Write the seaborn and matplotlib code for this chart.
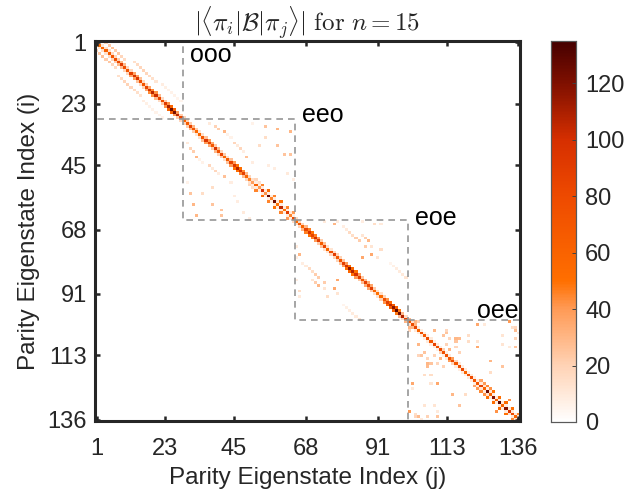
"""Mapa de calor de la matriz B en la base de paridad, n = 15."""
import matplotlib
matplotlib.use("Agg")
import matplotlib.pyplot as plt
import numpy as np
import seaborn as sns
from matplotlib.colors import LinearSegmentedColormap
from matplotlib.patches import Rectangle

tick_labels = [1, 23, 45, 68, 91, 113, 136]
cbar_ticks = [0, 20, 40, 60, 80, 100, 120]
block_edges = [0, 28, 64, 100, 136]
block_names = ["ooo", "eeo", "eoe", "oee"]

diag_ooo = [40, 50, 58, 62, 66, 72, 76, 82, 92, 78, 72, 88, 98, 94, 78, 72, 84, 98, 106, 102,
            84, 78, 92, 110, 124, 122, 106, 84]
diag_eeo = [60, 66, 85, 72, 55, 58, 70, 95, 85, 70, 98, 75, 85, 60, 68, 85, 95, 108, 100, 88,
            60, 45, 38, 62, 40, 100, 42, 128, 45, 125, 50, 105, 50, 90, 45, 80]
diag_eoe = [55, 70, 60, 85, 98, 85, 100, 90, 65, 85, 60, 78, 90, 70, 72, 88, 100, 118, 108, 100,
            90, 70, 88, 80, 90, 60, 50, 55, 75, 90, 105, 118, 130, 122, 108, 85]
diag_oee = [70, 78, 85, 60, 78, 70, 80, 72, 85, 78, 80, 76, 75, 72, 80, 70, 76, 82, 60, 78,
            80, 70, 70, 85, 60, 125, 60, 118, 62, 130, 60, 118, 95, 80, 60, 95]

# primera superdiagonal (filas 0 a 134)
near_ooo = [10, 12, 14, 14, 16, 18, 22, 30, 28, 18, 18, 36, 38, 26, 16, 20, 34, 44, 42, 28,
            16, 22, 42, 60, 62, 40, 22, 18]
near_eeo = [20, 22, 30, 22, 12, 14, 26, 40, 34, 22, 30, 18, 22, 14, 26, 40, 50, 52, 44, 28,
            18, 14, 8, 10, 8, 10, 8, 10, 8, 10, 8, 10, 8, 10, 8, 16]
near_eoe = [18, 18, 30, 46, 50, 46, 40, 22, 26, 14, 12, 18, 20, 20, 24, 40, 52, 58, 50, 40,
            24, 28, 34, 36, 22, 14, 14, 20, 42, 58, 66, 62, 48, 28, 16, 30]
near_oee = [14, 12, 10, 8, 10, 8, 10, 8, 10, 8, 10, 8, 10, 12, 18, 10, 8, 10, 8, 10, 8, 8, 10,
            12, 8, 12, 8, 10, 8, 10, 8, 10, 12, 10, 12]

# bandas del bloque ooo (fila inicial, desfase, valores)
band_rows = [0, 7, 15]
band_offsets = [3, 5, 6]
band_values = [
    [20, 24, 26, 22, 24, 18, 16],
    [14, 16, 18, 20, 18, 16, 14, 12],
    [8, 7, 6, 6, 6, 5, 5],
]

# puntos sueltos del bloque eeo
eeo_rows = [29, 30, 31, 32, 33, 34, 36, 37, 38, 39, 41, 29, 30, 31, 32, 34, 37, 37, 40, 40, 44,
            45, 47, 49, 43, 51, 53, 55, 57, 59, 61, 49, 50]
eeo_cols = [36, 38, 39, 41, 42, 43, 44, 45, 46, 47, 48, 50, 54, 58, 62, 54, 52, 58, 60, 62, 55,
            57, 61, 63, 50, 53, 55, 57, 59, 61, 63, 51, 52]
eeo_vals = [10, 20, 22, 30, 6, 6, 18, 10, 18, 8, 26, 6, 25, 30, 30, 15, 15, 25, 25, 25, 8,
            8, 10, 8, 8, 45, 55, 45, 50, 45, 40, 18, 14]

# puntos sueltos del bloque eoe
eoe_rows = [65, 64, 66, 67, 68, 70, 69, 70, 71, 64, 65, 65, 73, 73, 74, 77, 76, 77, 79, 80, 81,
            82, 83, 84, 71, 69, 64]
eoe_cols = [76, 73, 79, 80, 81, 83, 85, 86, 87, 85, 89, 91, 86, 88, 91, 85, 88, 90, 94, 95, 96,
            97, 98, 99, 84, 82, 77]
eoe_vals = [30, 10, 8, 10, 16, 22, 12, 22, 30, 8, 15, 10, 22, 12, 15, 35, 35, 12, 5, 7, 8,
            9, 10, 12, 22, 15, 8]

# puntos sueltos del bloque oee
oee_rows = [100, 100, 101, 103, 104, 105, 106, 106, 106, 107, 101, 101, 100, 102, 109, 107,
            109, 109, 104, 108, 114, 116, 118, 108, 108, 110, 110, 111, 112, 113, 114, 115,
            115, 116, 115, 116, 119, 122, 124, 122, 122, 126, 126, 130, 130, 132, 133, 134,
            134, 132, 134, 123, 125, 127, 129, 131, 133, 121, 122, 124, 128]
oee_cols = [102, 103, 102, 108, 112, 111, 115, 116, 113, 119, 122, 124, 132, 134, 122, 122,
            132, 134, 135, 130, 126, 130, 126, 103, 112, 113, 111, 105, 103, 113, 113, 106,
            107, 106, 109, 111, 105, 101, 101, 109, 107, 114, 118, 105, 116, 100, 102, 103,
            106, 109, 109, 125, 127, 129, 131, 133, 135, 123, 124, 126, 132]
oee_vals = [30, 20, 30, 22, 25, 14, 28, 22, 18, 15, 30, 15, 35, 18, 32, 12,
            15, 22, 10, 12, 32, 18, 14, 30, 20, 30, 20, 25, 18, 35, 40, 30,
            25, 28, 18, 20, 15, 35, 10, 35, 12, 30, 15, 12, 25, 40, 15, 28,
            20, 10, 25, 44, 50, 52, 54, 50, 44, 36, 40, 42, 42]

diag_values = diag_ooo + diag_eeo + diag_eoe + diag_oee
near_values = near_ooo + near_eeo + near_eoe + near_oee
sparse_rows = eeo_rows + eoe_rows + oee_rows
sparse_cols = eeo_cols + eoe_cols + oee_cols
sparse_vals = eeo_vals + eoe_vals + oee_vals

matriz = np.zeros((len(diag_values), len(diag_values)))
for k, v in enumerate(near_values):
    matriz[k, k + 1] = v
for fila, desfase, valores in zip(band_rows, band_offsets, band_values):
    for k, v in enumerate(valores):
        matriz[fila + k, fila + k + desfase] = v
for f, c, v in zip(sparse_rows, sparse_cols, sparse_vals):
    matriz[min(f, c), max(f, c)] = v
matriz = matriz + matriz.T
matriz[np.diag_indices_from(matriz)] = diag_values

naranjas = LinearSegmentedColormap.from_list(
    "naranjas",
    [(0, "#ffffff"), (20 / 135, "#ffd2b4"), (40 / 135, "#ff9a55"), (50 / 135, "#ff6f00"),
     (80 / 135, "#ee4a00"), (100 / 135, "#d62f00"), (120 / 135, "#801000"), (1, "#460000")],
)

plt.rcParams["font.family"] = ["Liberation Sans", "DejaVu Sans"]
plt.rcParams["mathtext.fontset"] = "cm"

fig = plt.figure(figsize=(6.36, 4.95), dpi=100)
ax = fig.add_axes([95 / 636, 1 - 421 / 495, 425 / 636, 380 / 495])
cax = fig.add_axes([551 / 636, 1 - 422 / 495, 25 / 636, 381 / 495])

sns.heatmap(matriz, ax=ax, cbar_ax=cax, cmap=naranjas, vmin=0, vmax=135,
            xticklabels=False, yticklabels=False)

posiciones = [t - 0.5 for t in tick_labels]
ax.set_xticks(posiciones, tick_labels)
ax.set_yticks(posiciones, tick_labels)
ax.tick_params(direction="in", length=3.6, width=1.8, color="#262626", labelcolor="#262626",
               labelsize=17, top=True, right=True)
ax.tick_params(axis="x", pad=12)
ax.tick_params(axis="y", pad=6)
for borde in ax.spines.values():
    borde.set_visible(True)
    borde.set_linewidth(2.2)
    borde.set_color("#262626")

# etiquetas de bloque colocadas a mano
texto_x = [30.3, 66.3, 102.3, 122.3]
texto_y = [5, 26.5, 63.5, 96.5]
for inicio, fin, nombre, tx, ty in zip(block_edges[:-1], block_edges[1:], block_names, texto_x, texto_y):
    ax.add_patch(Rectangle((inicio, inicio), fin - inicio, fin - inicio, fill=False,
                           edgecolor="#969696", linewidth=1.2, linestyle=(0, (4, 3))))
    ax.text(tx, ty, nombre, fontsize=18, color="black", va="center", ha="left")

ax.set_xlabel("Parity Eigenstate Index (j)", fontsize=17.5, color="#262626", labelpad=5)
ax.set_ylabel("Parity Eigenstate Index (i)", fontsize=17.5, color="#262626", labelpad=5.5)
ax.set_title(r"$|\langle\pi_i|\mathcal{B}|\pi_j\rangle|\ \mathrm{for}\ n=15$",
             fontsize=18, color="#262626", pad=7)

cax.set_yticks(cbar_ticks, cbar_ticks)
cax.tick_params(direction="in", length=3, width=0.7, color="#404040", labelcolor="#262626",
                labelsize=17, pad=6.5)
for borde in cax.spines.values():
    borde.set_visible(True)
    borde.set_linewidth(0.8)
    borde.set_color("#595959")

fig.savefig("out.png", dpi=100)
